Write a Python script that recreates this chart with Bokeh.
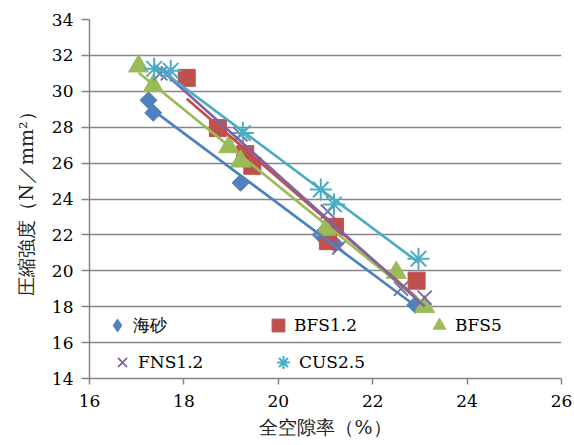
import numpy as np
from bokeh.plotting import figure
from bokeh.models import Range1d, SingleIntervalTicker, Legend, LegendItem
from bokeh.embed import file_html
from bokeh.resources import INLINE

# Total void ratio (%) vs. compressive strength (N/mm2) per aggregate type
sea_x = [17.25, 17.35, 19.2, 20.9, 21.2, 22.9]
sea_y = [29.5, 28.8, 24.9, 22.0, 21.5, 18.1]

bfs12_x = [18.06, 18.72, 19.3, 19.45, 21.2, 21.05, 22.93]
bfs12_y = [30.75, 27.95, 26.5, 25.85, 22.45, 21.65, 19.45]

bfs5_x = [17.04, 17.35, 18.95, 19.2, 21.0, 22.5, 23.1]
bfs5_y = [31.4, 30.3, 26.9, 26.1, 22.3, 19.9, 18.0]

fns12_x = [17.5, 17.66, 19.2, 21.05, 21.29, 22.6, 23.1]
fns12_y = [31.0, 31.0, 27.6, 23.3, 21.3, 19.0, 18.5]

cus25_x = [17.37, 17.72, 19.25, 20.9, 21.18, 22.97]
cus25_y = [31.25, 31.15, 27.67, 24.53, 23.7, 20.67]

series_names = ["海砂", "BFS1.2", "BFS5", "FNS1.2", "CUS2.5"]

SERIF = "DejaVu Serif"
GRAY = "#868686"

p = figure(width=574, height=445, output_backend="svg", toolbar_location=None,
           x_range=Range1d(16, 26), y_range=Range1d(14, 34),
           min_border_left=89, min_border_right=13, min_border_top=19,
           min_border_bottom=67)
p.outline_line_color = None
p.background_fill_color = "white"
p.border_fill_color = "white"

p.xaxis.ticker = SingleIntervalTicker(interval=2)
p.yaxis.ticker = SingleIntervalTicker(interval=2)
for ax in (p.xaxis, p.yaxis):
    ax.axis_line_color = GRAY
    ax.axis_line_width = 1.5
    ax.major_tick_line_color = GRAY
    ax.major_tick_line_width = 1.5
    ax.major_tick_in = 0
    ax.minor_tick_line_color = None
    ax.major_label_text_font = SERIF
    ax.major_label_text_font_size = "17px"
    ax.major_label_text_color = "black"
    ax.axis_label_text_font = SERIF
    ax.axis_label_text_font_size = "19px"
    ax.axis_label_text_font_style = "normal"
    ax.axis_label_text_color = "#222222"
p.xaxis.major_tick_out = 6
p.yaxis.major_tick_out = 8
p.xaxis.major_label_standoff = 10
p.yaxis.major_label_standoff = 8
p.xaxis.axis_label = "全空隙率（%）"
p.yaxis.axis_label = "圧縮強度（N／mm²）"
p.xaxis.axis_label_standoff = 6
p.yaxis.axis_label_standoff = 12

p.xgrid.grid_line_color = None
p.ygrid.grid_line_color = GRAY
p.ygrid.grid_line_width = 1.3


def trend(xs, ys, color):
    k, b = np.polyfit(xs, ys, 1)
    x0, x1 = min(xs), max(xs)
    p.line([x0, x1], [k * x0 + b, k * x1 + b], line_color=color, line_width=2.7)


colors = ["#4F81BD", "#C0504D", "#9BBB59", "#8064A2", "#4BACC6"]
data = [(sea_x, sea_y), (bfs12_x, bfs12_y), (bfs5_x, bfs5_y),
        (fns12_x, fns12_y), (cus25_x, cus25_y)]

# markers drawn in the plot area
p.scatter(sea_x, sea_y, marker="square", angle=np.pi / 4, size=12,
          fill_color=colors[0], line_color=colors[0])
r_bfs12 = p.scatter(bfs12_x, bfs12_y, marker="square", size=17,
                    fill_color=colors[1], line_color=colors[1])
r_bfs5 = p.scatter(bfs5_x, bfs5_y, marker="triangle", size=20,
                   fill_color=colors[2], line_color=colors[2])
r_fns12 = p.scatter(fns12_x, fns12_y, marker="x", size=20,
                    line_color=colors[3], line_width=1.8)
r_cus25 = p.scatter(cus25_x, cus25_y, marker="asterisk", size=22,
                    line_color=colors[4], line_width=2)

# hidden renderer supplying the diamond swatch for the legend
r_sea_key = p.scatter(sea_x, sea_y, marker="diamond", size=12,
                      fill_color=colors[0], line_color=colors[0], visible=False)

renderers = [r_sea_key, r_bfs12, r_bfs5, r_fns12, r_cus25]

for (xs, ys), c in zip(data, colors):
    trend(xs, ys, c)


def make_legend(idx, loc):
    items = [LegendItem(label=series_names[i], renderers=[renderers[i]]) for i in idx]
    lg = Legend(items=items, orientation="horizontal", location=loc,
                border_line_color=None, background_fill_alpha=0,
                padding=0, margin=0, spacing=0,
                glyph_width=32, glyph_height=32, label_standoff=0,
                label_width=129, label_height=32,
                label_text_font=SERIF, label_text_font_size="17px",
                label_text_color="black")
    p.add_layout(lg, "center")


make_legend([0, 1, 2], (12, 37))
make_legend([3, 4], (17, 0))

open("out.html", "w").write(file_html(p, INLINE))
